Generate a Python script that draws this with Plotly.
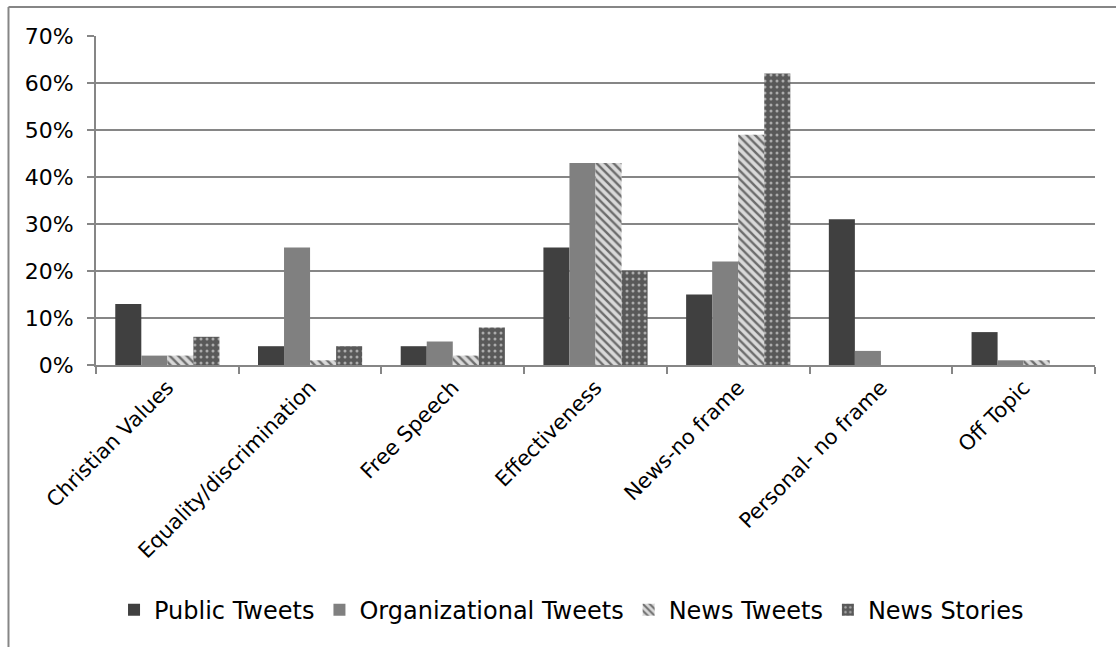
import plotly.graph_objects as go

categories = ["Christian Values", "Equality/discrimination", "Free Speech", "Effectiveness",
              "News-no frame", "Personal- no frame", "Off Topic"]
public_tweets = [13, 4, 4, 25, 15, 31, 7]
org_tweets = [2, 25, 5, 43, 22, 3, 1]
news_tweets = [2, 1, 2, 43, 49, 0, 1]
news_stories = [6, 4, 8, 20, 62, 0, 0]
y_ticks = [0, 10, 20, 30, 40, 50, 60, 70]
y_labels = ["0%", "10%", "20%", "30%", "40%", "50%", "60%", "70%"]

FONT = "DejaVu Sans"
fig = go.Figure()
fig.add_bar(x=categories, y=public_tweets, name="Public Tweets",
            marker=dict(color="#404040", line=dict(width=0)))
fig.add_bar(x=categories, y=org_tweets, name="Organizational Tweets",
            marker=dict(color="#808080", line=dict(width=0)))
fig.add_bar(x=categories, y=news_tweets, name="News Tweets",
            marker=dict(color="#d9d9d9", line=dict(width=0),
                        pattern=dict(shape="\\", fgcolor="#000000", bgcolor="#d9d9d9",
                                     size=6, solidity=0.4, fillmode="overlay")))
fig.add_bar(x=categories, y=news_stories, name="News Stories",
            marker=dict(color="#595959", line=dict(width=0),
                        pattern=dict(shape=".", fgcolor="#ffffff", bgcolor="#595959",
                                     size=6, solidity=0.2, fillmode="overlay")))

fig.update_layout(
    width=1116, height=647,
    margin=dict(l=96, r=21, t=36, b=282),
    paper_bgcolor="white", plot_bgcolor="white",
    barmode="group", bargap=0.27, bargroupgap=0,
    font=dict(family=FONT, size=22, color="#000000"),
    showlegend=True,
    legend=dict(orientation="h", x=0.476, xanchor="center", y=-0.745, yanchor="middle",
                font=dict(size=24, family=FONT), itemwidth=30, traceorder="normal",
                itemclick=False),
    xaxis=dict(type="category", tickangle=-45, tickfont=dict(size=21, family=FONT),
               showline=True, linecolor="#868686", linewidth=2,
               ticks="outside", ticklen=7, tickcolor="#868686", tickwidth=2,
               tickson="boundaries", showgrid=False, automargin=False),
    yaxis=dict(range=[0, 70], tickvals=y_ticks, ticktext=y_labels,
               tickfont=dict(size=22, family=FONT), ticklabelstandoff=9,
               showline=True, linecolor="#868686", linewidth=2,
               ticks="outside", ticklen=7, tickcolor="#868686", tickwidth=2,
               showgrid=True, gridcolor="#868686", gridwidth=2, zeroline=False,
               automargin=False),
)

# outer chart border (left and top edges visible in the reference)
fig.add_shape(type="line", xref="paper", yref="paper", x0=-0.0876, x1=-0.0876, y0=-0.87, y1=1.088,
              line=dict(color="#868686", width=2))
fig.add_shape(type="line", xref="paper", yref="paper", x0=-0.0876, x1=1.03, y0=1.088, y1=1.088,
              line=dict(color="#868686", width=2))

fig.write_html("out.html")
